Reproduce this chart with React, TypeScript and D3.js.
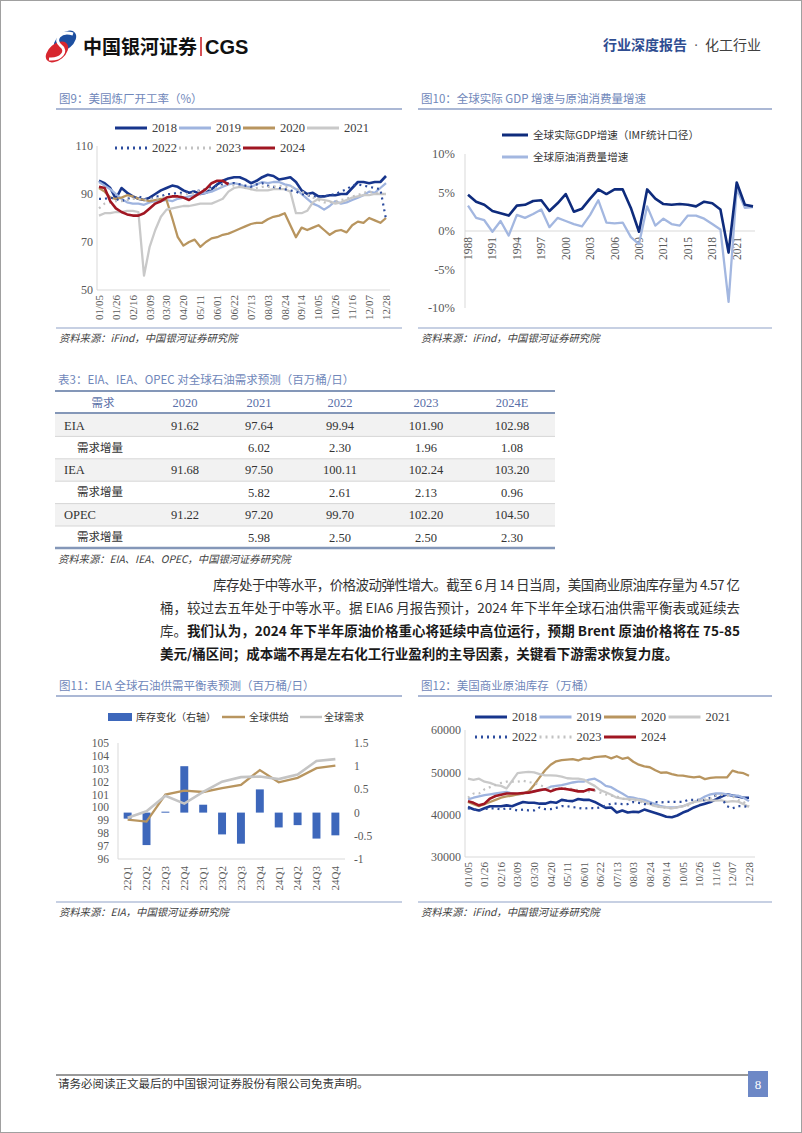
import { useEffect, useRef } from 'react'
import * as d3 from 'd3'

const SERIF = '"Liberation Serif", "Times New Roman", "Noto Sans CJK SC", serif'
const CJK = '"Noto Sans CJK SC", "Liberation Serif", sans-serif'
const TITLE_COLOR = '#6f87ba'
const RULE_COLOR = '#8fa1c7'
const AXIS_COLOR = '#d9d9d9'
const TICK_COLOR = '#595959'

// ---- shared weekly axis (图9 / 图12)
const weekLabels = ['01/05', '01/26', '02/16', '03/09', '03/30', '04/20', '05/11', '06/01', '06/22', '07/13', '08/03', '08/24', '09/14', '10/05', '10/26', '11/16', '12/07', '12/28']
const yearNames = ['2018', '2019', '2020', '2021', '2022', '2023', '2024']

// ---- 图9 美国炼厂开工率 (%)
const util2018 = [95.5, 94.5, 92.5, 88, 92.5, 90.5, 89, 88, 87.5, 88.5, 90, 91.5, 92.5, 93.5, 93, 91.5, 90.5, 91, 90, 90.5, 92, 94, 95.5, 96.5, 97, 97, 96, 94.5, 95.5, 97, 98, 97.5, 96, 96.5, 97, 95, 91.5, 90, 90.5, 89, 89, 89.5, 89.5, 90, 90, 92.5, 95, 95, 94.5, 95, 95, 97.5]
const util2019 = [95, 93.5, 92, 90, 88, 86.5, 86, 86, 85.5, 86.5, 87, 87, 87.5, 87, 88, 88.5, 89, 89.5, 90, 90.5, 91, 92, 93, 94, 94.5, 94, 93, 93, 94, 95, 94.5, 95, 95, 94, 93.5, 92, 90, 88, 86, 85, 83.5, 85, 87, 86, 86.5, 87.5, 88.5, 89.5, 91, 90.5, 92.5, 94.5]
const util2020 = [92.5, 91, 88.5, 88, 88.5, 89.5, 89, 88, 87.5, 87, 87.5, 88, 87.5, 80, 72, 68.5, 70, 71, 68, 70, 71.5, 72, 73, 73.5, 74.5, 75.5, 76.5, 77.5, 78, 78, 79.5, 80.5, 81, 82, 77, 72, 76, 75, 76, 77, 75, 73, 74.5, 75, 74, 77, 78.5, 78, 80, 79, 78, 80]
const util2021 = [81, 82, 82, 82.5, 82.5, 83, 83, 82.5, 56, 68, 75, 80.5, 83.5, 84, 84.5, 85, 85, 85.5, 86, 86, 86, 87, 88, 91, 92.5, 93, 92.5, 92, 91.5, 91.5, 91.5, 92, 92, 92, 91, 82, 82, 83, 86.5, 88, 87.5, 87, 86, 86.5, 87.5, 88.5, 89, 89.5, 89.5, 90, 90, 90]
const util2022 = [88, 88, 88.5, 88, 87, 88, 88.5, 89, 88, 88, 89, 89, 90, 90, 90.5, 90.5, 91, 91, 91.5, 92, 93, 93.5, 94, 94.5, 94.5, 94, 93.5, 93, 94, 94.5, 93.5, 93, 92.5, 92, 91.5, 91, 90, 89.5, 89, 89, 89, 89.5, 90, 91, 92, 93.5, 94, 93.5, 93, 92.5, 92, 79.5]
const util2023 = [84, 86, 86.5, 87, 87, 87.5, 88, 88, 87.5, 88, 88, 88.5, 89, 89, 89.5, 90, 90, 90.5, 91.5, 92, 92, 92.5, 93.5, 94, 93.5, 93, 92.5, 92, 92.5, 93, 93, 93, 93.5, 93, 93, 92.5, 91, 90, 88.5, 87.5, 86.5, 86.5, 87, 87.5, 88, 89, 89.5, 90.5, 91, 90.5, 90, 90]
const util2024 = [93, 92.5, 87, 84, 82.5, 81.5, 81, 81, 82, 84, 86, 87, 88.5, 89, 89, 88.5, 87.5, 89, 90.5, 92, 94.5, 95.5, 95.5, 94]
const utilTicks = [50, 70, 90, 110]

// ---- 图10 全球实际GDP增速 vs 原油消费量增速 (%)
const gdpYears = d3.range(1988, 2024)
const gdpGrowth = [4.7, 3.8, 3.4, 2.6, 2.3, 2.0, 3.3, 3.4, 3.9, 4.0, 2.6, 3.6, 4.8, 2.5, 2.9, 4.2, 5.4, 4.8, 5.4, 5.4, 3.0, -0.1, 5.4, 4.2, 3.5, 3.4, 3.5, 3.4, 3.2, 3.8, 3.6, 2.8, -2.8, 6.3, 3.4, 3.2]
const oilGrowth = [3.3, 1.7, 1.4, -0.1, 1.3, -0.6, 2.1, 1.7, 2.2, 2.8, 0.5, 1.7, 1.3, 0.9, 0.6, 2.1, 4.0, 1.1, 1.0, 1.1, -0.8, -1.7, 3.2, 0.7, 1.6, 0.9, 0.7, 2.0, 2.0, 1.6, 0.9, 0.2, -9.2, 5.5, 3.0, 3.1]
const gdpTickYears = d3.range(1988, 2022, 3)
const pctTicks = [-10, -5, 0, 5, 10]

// ---- 表3 需求预测
const tableHead = ['需求', '2020', '2021', '2022', '2023', '2024E']
const tableRows = [
  ['EIA', '91.62', '97.64', '99.94', '101.90', '102.98'],
  ['需求增量', '', '6.02', '2.30', '1.96', '1.08'],
  ['IEA', '91.68', '97.50', '100.11', '102.24', '103.20'],
  ['需求增量', '', '5.82', '2.61', '2.13', '0.96'],
  ['OPEC', '91.22', '97.20', '99.70', '102.20', '104.50'],
  ['需求增量', '', '5.98', '2.50', '2.50', '2.30'],
]

// ---- 图11 EIA 供需平衡
const quarters = ['22Q1', '22Q2', '22Q3', '22Q4', '23Q1', '23Q2', '23Q3', '23Q4', '24Q1', '24Q2', '24Q3', '24Q4']
const stockChange = [-0.13, -0.7, 0.02, 1.0, 0.17, -0.47, -0.67, 0.5, -0.32, -0.27, -0.56, -0.49]
const supply = [99.05, 98.9, 101.0, 101.3, 101.2, 101.5, 101.75, 102.9, 101.95, 102.3, 103.05, 103.25]
const demand = [99.2, 99.7, 100.9, 100.3, 101.2, 102.0, 102.35, 102.4, 102.2, 102.55, 103.6, 103.75]
const leftTicks = d3.range(96, 106)
const rightTicks = [-1, -0.5, 0, 0.5, 1, 1.5]

// ---- 图12 美国商业原油库存 (万桶)
const stock2018 = [41800, 41300, 41000, 41500, 42000, 42000, 42000, 42200, 42000, 42500, 43000, 42800, 42800, 42600, 42600, 43000, 42800, 43500, 43300, 43200, 43700, 43500, 43500, 43000, 42300, 41600, 41700, 40500, 41000, 40500, 40700, 40600, 41200, 40800, 40400, 40000, 39500, 39400, 39800, 40500, 41000, 41700, 42200, 42600, 43000, 43600, 44300, 44800, 44500, 44300, 44000, 44000]
const stock2019 = [43600, 44000, 44300, 44600, 44800, 45000, 45200, 45400, 45000, 44800, 45000, 45300, 45500, 45800, 46000, 46600, 46800, 47000, 47300, 47600, 47800, 47800, 48300, 48500, 47800, 46800, 46500, 45700, 45000, 44200, 44000, 43700, 43500, 43000, 42500, 42000, 41800, 41700, 41800, 42000, 42500, 43000, 43500, 44300, 44800, 45000, 45000, 44800, 44500, 44500, 44000, 43200]
const stock2020 = [43000, 42500, 42000, 42500, 43000, 43500, 44000, 44300, 44500, 44800, 45000, 45500, 47000, 48800, 50500, 51800, 52600, 52900, 53000, 53100, 52800, 53300, 53200, 53600, 53700, 53800, 53300, 53800, 53200, 53500, 52500, 51800, 51400, 51200, 50500, 49900, 50000, 49600, 49300, 49200, 49000, 48800, 49000, 48400, 48700, 48800, 48800, 48800, 50400, 50000, 49800, 49200]
const stock2021 = [48500, 48200, 48500, 47800, 47500, 47000, 46800, 46200, 48000, 49800, 50000, 50100, 50000, 49600, 49300, 49300, 49200, 49000, 48600, 48500, 48500, 48300, 47500, 46800, 45800, 45300, 44700, 44000, 43800, 43700, 43600, 43500, 43000, 42500, 42000, 41800, 41700, 41500, 41700, 42000, 42500, 43000, 43200, 43500, 43400, 43300, 43400, 43000, 43200, 43100, 42500, 41800]
const stock2022 = [41500, 41200, 41000, 41300, 41500, 41500, 41200, 41500, 41300, 41000, 41200, 41000, 41000, 41700, 41300, 41300, 41600, 42000, 42000, 41800, 41600, 41400, 41600, 41500, 41700, 42200, 42600, 42600, 42500, 42500, 43000, 42800, 42500, 42500, 43000, 42900, 43000, 43000, 43000, 43000, 43500, 43500, 43500, 43400, 44000, 44500, 44000, 42000, 41500, 42000, 42000, 41800]
const stock2023 = [44000, 45000, 45000, 46000, 46500, 47000, 47500, 47800, 47800, 47800, 48000, 47700, 47500, 47000, 46500, 46000, 46200, 46300, 46300, 46000, 45800, 45500, 45500, 45700, 45200, 44800, 44500, 44300, 43800, 43500, 43400, 43200, 42800, 42500, 42000, 41800, 41600, 41500, 41800, 42000, 42200, 43000, 43500, 43600, 43800, 44500, 44700, 44500, 44300, 43500, 43000, 42000]
const stock2024 = [43200, 42800, 42200, 42600, 43800, 44400, 44700, 45000, 45000, 45000, 45100, 45200, 45500, 45800, 46000, 45500, 46000, 46200, 46000, 45800, 45500, 45500, 46000, 45800]
const stockTicks = [30000, 40000, 50000, 60000]

// line look per year, in legend order
const yearStyle = [
  { color: '#17358c', width: 2.6, dash: null },
  { color: '#9fb4df', width: 2.3, dash: null },
  { color: '#b8955f', width: 2.3, dash: null },
  { color: '#c9c9c9', width: 2.3, dash: null },
  { color: '#2c4c9e', width: 2.2, dash: '2,4' },
  { color: '#c2c2c2', width: 2.2, dash: '2,4' },
  { color: '#a01622', width: 2.6, dash: null },
]

const titleBlock = (svg, x1, x2, baseline, text) => {
  svg.append('text').attr('x', x1 + 3).attr('y', baseline).attr('font-family', CJK)
    .attr('font-size', 11.5).attr('fill', TITLE_COLOR).text(text)
  svg.append('line').attr('x1', x1).attr('x2', x2).attr('y1', baseline + 6).attr('y2', baseline + 6)
    .attr('stroke', RULE_COLOR).attr('stroke-width', 1.3)
}

const sourceBlock = (svg, x1, x2, lineY, text) => {
  svg.append('line').attr('x1', x1).attr('x2', x2).attr('y1', lineY).attr('y2', lineY)
    .attr('stroke', RULE_COLOR).attr('stroke-width', 1.2)
  svg.append('text').attr('x', x1 + 3).attr('y', lineY + 14).attr('font-family', CJK)
    .attr('font-style', 'italic').attr('font-size', 10.3).attr('fill', '#404040').text(text)
}

const drawWeekly = (svg, o) => {
  const x = d3.scalePoint().domain(d3.range(52)).range(o.xRange)
  const y = d3.scaleLinear().domain(o.domain).range([o.bottom, o.top])
  const g = svg.append('g')

  g.append('line').attr('x1', o.left).attr('x2', o.left).attr('y1', o.top).attr('y2', o.bottom).attr('stroke', AXIS_COLOR)
  g.append('line').attr('x1', o.left).attr('x2', o.right).attr('y1', o.bottom).attr('y2', o.bottom).attr('stroke', AXIS_COLOR)

  g.append('g').selectAll('text').data(o.ticks).join('text')
    .attr('x', o.left - 4).attr('y', (d) => y(d)).attr('dy', '0.35em').attr('text-anchor', 'end')
    .attr('font-family', SERIF).attr('font-size', 12).attr('fill', TICK_COLOR).text((d) => d)

  g.append('g').selectAll('text').data(weekLabels).join('text')
    .attr('transform', (d, i) => `translate(${x(i * 3)},${o.bottom + 5}) rotate(-90)`)
    .attr('dy', '0.35em').attr('text-anchor', 'end')
    .attr('font-family', SERIF).attr('font-size', 11).attr('fill', TICK_COLOR).text((d) => d)

  const line = d3.line().x((d, i) => x(i)).y((d) => y(d))
  o.series.forEach((s, k) => {
    const st = yearStyle[k]
    g.append('path').datum(s).attr('d', line).attr('fill', 'none')
      .attr('stroke', st.color).attr('stroke-width', st.width)
      .attr('stroke-dasharray', st.dash).attr('stroke-linejoin', 'round')
  })

  // legend: 4 on first row, 3 on second
  yearNames.forEach((name, k) => {
    const st = yearStyle[k]
    const lx = o.legendX + (k % 4) * o.legendStep
    const ly = o.legendY + Math.floor(k / 4) * 20
    g.append('line').attr('x1', lx).attr('x2', lx + 32).attr('y1', ly).attr('y2', ly)
      .attr('stroke', st.color).attr('stroke-width', 3).attr('stroke-dasharray', st.dash)
    g.append('text').attr('x', lx + 37).attr('y', ly).attr('dy', '0.35em')
      .attr('font-family', SERIF).attr('font-size', 12.5).attr('fill', '#404040').text(name)
  })
}

const App = () => {
  const svgRef = useRef(null)

  useEffect(() => {
    const svg = d3.select(svgRef.current)
    svg.selectAll('*').remove()

    svg.append('rect').attr('x', 0.5).attr('y', 0.5).attr('width', 801).attr('height', 1132)
      .attr('fill', '#fff').attr('stroke', '#a0a0a0')

    // ---------- header
    const logo = svg.append('g')
    logo.append('ellipse').attr('cx', 65).attr('cy', 41).attr('rx', 13).attr('ry', 8)
      .attr('transform', 'rotate(-40 65 41)').attr('fill', '#1d4fa0')
    logo.append('ellipse').attr('cx', 57).attr('cy', 52).attr('rx', 13).attr('ry', 8)
      .attr('transform', 'rotate(-40 57 52)').attr('fill', '#d7262f')
    logo.append('path').attr('d', 'M73,34 C60,30 53,40 61,46 C68,51 61,60 49,59')
      .attr('fill', 'none').attr('stroke', '#fff').attr('stroke-width', 3)
    svg.append('text').attr('x', 83).attr('y', 54).attr('font-family', CJK).attr('font-weight', 700)
      .attr('font-size', 19).attr('fill', '#111').text('中国银河证券')
    svg.append('line').attr('x1', 201).attr('x2', 201).attr('y1', 37).attr('y2', 56).attr('stroke', '#c8161d').attr('stroke-width', 1.5)
    svg.append('text').attr('x', 205).attr('y', 54).attr('font-family', '"Liberation Sans", Arial, sans-serif')
      .attr('font-weight', 700).attr('font-size', 20).attr('fill', '#111').text('CGS')
    svg.append('text').attr('x', 603).attr('y', 50).attr('font-family', CJK).attr('font-weight', 700)
      .attr('font-size', 14).attr('fill', '#2f4d91').text('行业深度报告')
    svg.append('text').attr('x', 696).attr('y', 50).attr('text-anchor', 'middle').attr('font-family', SERIF)
      .attr('font-size', 14).attr('fill', '#555').text('·')
    svg.append('text').attr('x', 705).attr('y', 50).attr('font-family', CJK)
      .attr('font-size', 14).attr('fill', '#404040').text('化工行业')

    // ---------- 图9
    titleBlock(svg, 56, 402, 103, '图9：美国炼厂开工率（%）')
    drawWeekly(svg, {
      left: 97, right: 390, top: 146, bottom: 290, xRange: [99, 386],
      domain: [50, 110], ticks: utilTicks,
      series: [util2018, util2019, util2020, util2021, util2022, util2023, util2024],
      legendX: 115, legendStep: 64, legendY: 128,
    })
    sourceBlock(svg, 56, 402, 328, '资料来源：iFind，中国银河证券研究院')

    // ---------- 图10
    titleBlock(svg, 418, 772, 103, '图10：全球实际 GDP 增速与原油消费量增速')
    {
      const g = svg.append('g')
      const x = d3.scaleLinear().domain([1988, 2023]).range([468, 753])
      const y = d3.scaleLinear().domain([-10, 10]).range([308, 154])
      g.append('line').attr('x1', 465).attr('x2', 465).attr('y1', y(10)).attr('y2', y(-10)).attr('stroke', AXIS_COLOR)
      g.append('line').attr('x1', 465).attr('x2', 755).attr('y1', y(0)).attr('y2', y(0)).attr('stroke', AXIS_COLOR)
      g.append('g').selectAll('text').data(pctTicks).join('text')
        .attr('x', 455).attr('y', (d) => y(d)).attr('dy', '0.35em').attr('text-anchor', 'end')
        .attr('font-family', SERIF).attr('font-size', 12.5).attr('fill', TICK_COLOR).text((d) => `${d}%`)
      g.append('g').selectAll('text').data(gdpTickYears).join('text')
        .attr('transform', (d) => `translate(${x(d)},${y(0) + 6}) rotate(-90)`)
        .attr('dy', '0.35em').attr('text-anchor', 'end')
        .attr('font-family', SERIF).attr('font-size', 11.5).attr('fill', TICK_COLOR).text((d) => d)
      const line = d3.line().x((d, i) => x(gdpYears[i])).y((d) => y(d))
      g.append('path').datum(oilGrowth).attr('d', line).attr('fill', 'none').attr('stroke', '#a3b7e0').attr('stroke-width', 2.3).attr('stroke-linejoin', 'round')
      g.append('path').datum(gdpGrowth).attr('d', line).attr('fill', 'none').attr('stroke', '#0e2b7c').attr('stroke-width', 2.6).attr('stroke-linejoin', 'round')
      const legend = [
        { label: '全球实际GDP增速（IMF统计口径）', color: '#0e2b7c', ly: 135 },
        { label: '全球原油消费量增速', color: '#a3b7e0', ly: 157 },
      ]
      legend.forEach((d) => {
        g.append('line').attr('x1', 502).attr('x2', 528).attr('y1', d.ly).attr('y2', d.ly).attr('stroke', d.color).attr('stroke-width', 3)
        g.append('text').attr('x', 533).attr('y', d.ly).attr('dy', '0.35em').attr('font-family', CJK)
          .attr('font-size', 10.6).attr('fill', '#333').text(d.label)
      })
    }
    sourceBlock(svg, 418, 772, 328, '资料来源：iFind，中国银河证券研究院')

    // ---------- 表3
    {
      const g = svg.append('g')
      g.append('text').attr('x', 58).attr('y', 384).attr('font-family', CJK).attr('font-size', 11.5)
        .attr('fill', TITLE_COLOR).text('表3：EIA、IEA、OPEC 对全球石油需求预测（百万桶/日）')
      const colX = [103, 185, 259, 340, 426, 512]
      const rowTop = 414
      const rowH = 22.4
      tableRows.forEach((row, r) => {
        const top = rowTop + r * rowH
        g.append('rect').attr('x', 55).attr('y', top).attr('width', 500).attr('height', rowH)
          .attr('fill', r % 2 === 0 ? '#f2f2f2' : '#fff')
        if (r > 0) g.append('line').attr('x1', 55).attr('x2', 555).attr('y1', top).attr('y2', top).attr('stroke', '#d6d6d6').attr('stroke-width', 1)
        row.forEach((cell, c) => {
          const isLabel = c === 0
          g.append('text')
            .attr('x', isLabel ? (r % 2 === 0 ? 64 : 77) : colX[c])
            .attr('y', top + rowH / 2).attr('dy', '0.35em')
            .attr('text-anchor', isLabel ? 'start' : 'middle')
            .attr('font-family', isLabel && r % 2 === 1 ? CJK : SERIF)
            .attr('font-size', isLabel && r % 2 === 1 ? 11.5 : 12.5).attr('fill', '#333').text(cell)
        })
      })
      g.append('line').attr('x1', 55).attr('x2', 555).attr('y1', 391).attr('y2', 391).attr('stroke', '#8497b8').attr('stroke-width', 2)
      g.append('line').attr('x1', 55).attr('x2', 555).attr('y1', 413).attr('y2', 413).attr('stroke', '#8497b8').attr('stroke-width', 2)
      g.append('line').attr('x1', 55).attr('x2', 555).attr('y1', 548).attr('y2', 548).attr('stroke', '#8497b8').attr('stroke-width', 2.5)
      tableHead.forEach((h, c) => {
        g.append('text').attr('x', colX[c]).attr('y', 403).attr('dy', '0.35em').attr('text-anchor', 'middle')
          .attr('font-family', c === 0 ? CJK : SERIF).attr('font-size', c === 0 ? 11.5 : 12.5)
          .attr('fill', '#5a6fa8').text(h)
      })
      g.append('text').attr('x', 58).attr('y', 563).attr('font-family', CJK).attr('font-style', 'italic')
        .attr('font-size', 10.3).attr('fill', '#404040').text('资料来源：EIA、IEA、OPEC，中国银河证券研究院')
    }

    // ---------- 正文
    {
      const g = svg.append('g').attr('font-family', CJK).attr('font-size', 13.5)
      g.append('text').attr('x', 213).attr('y', 590).attr('textLength', 527).attr('lengthAdjust', 'spacing')
        .attr('fill', '#333').text('库存处于中等水平，价格波动弹性增大。截至 6 月 14 日当周，美国商业原油库存量为 4.57 亿')
      g.append('text').attr('x', 160).attr('y', 613).attr('textLength', 580).attr('lengthAdjust', 'spacing')
        .attr('fill', '#333').text('桶，较过去五年处于中等水平。据 EIA6 月报告预计，2024 年下半年全球石油供需平衡表或延续去')
      g.append('text').attr('x', 160).attr('y', 636).attr('fill', '#333').text('库。')
      g.append('text').attr('x', 187).attr('y', 636).attr('textLength', 553).attr('lengthAdjust', 'spacing')
        .attr('font-weight', 700).attr('fill', '#1a1a1a')
        .text('我们认为，2024 年下半年原油价格重心将延续中高位运行，预期 Brent 原油价格将在 75-85')
      g.append('text').attr('x', 160).attr('y', 659).attr('font-weight', 700).attr('fill', '#1a1a1a')
        .text('美元/桶区间；成本端不再是左右化工行业盈利的主导因素，关键看下游需求恢复力度。')
    }

    // ---------- 图11
    titleBlock(svg, 56, 402, 690, '图11：EIA 全球石油供需平衡表预测（百万桶/日）')
    {
      const g = svg.append('g')
      const x = d3.scaleBand().domain(quarters).range([118, 345]).paddingInner(0.58).paddingOuter(0.3)
      const yL = d3.scaleLinear().domain([96, 105]).range([859, 743])
      const yR = d3.scaleLinear().domain([-1, 1.5]).range([859, 743])
      const cx = (q) => x(q) + x.bandwidth() / 2
      g.append('line').attr('x1', 118).attr('x2', 118).attr('y1', 743).attr('y2', 859).attr('stroke', AXIS_COLOR)
      g.append('line').attr('x1', 118).attr('x2', 345).attr('y1', 859).attr('y2', 859).attr('stroke', AXIS_COLOR)
      g.append('g').selectAll('text').data(leftTicks).join('text')
        .attr('x', 109).attr('y', (d) => yL(d)).attr('dy', '0.35em').attr('text-anchor', 'end')
        .attr('font-family', SERIF).attr('font-size', 11.5).attr('fill', TICK_COLOR).text((d) => d)
      g.append('g').selectAll('text').data(rightTicks).join('text')
        .attr('x', 354).attr('y', (d) => yR(d)).attr('dy', '0.35em').attr('text-anchor', 'start')
        .attr('font-family', SERIF).attr('font-size', 11.5).attr('fill', TICK_COLOR).text((d) => d)
      g.append('g').selectAll('text').data(quarters).join('text')
        .attr('transform', (d) => `translate(${cx(d)},866) rotate(-90)`)
        .attr('dy', '0.35em').attr('text-anchor', 'end')
        .attr('font-family', SERIF).attr('font-size', 11).attr('fill', TICK_COLOR).text((d) => d)
      g.append('g').selectAll('rect').data(stockChange).join('rect')
        .attr('x', (d, i) => x(quarters[i])).attr('width', x.bandwidth())
        .attr('y', (d) => yR(Math.max(0, d))).attr('height', (d) => Math.max(1, Math.abs(yR(d) - yR(0))))
        .attr('fill', '#3d67bb')
      const line = d3.line().x((d, i) => cx(quarters[i])).y((d) => yL(d))
      g.append('path').datum(supply).attr('d', line).attr('fill', 'none').attr('stroke', '#b8955f').attr('stroke-width', 2.3)
      g.append('path').datum(demand).attr('d', line).attr('fill', 'none').attr('stroke', '#c4c4c4').attr('stroke-width', 2.6)
      // legend
      const lg = g.append('g').attr('font-family', CJK).attr('font-size', 10).attr('fill', '#333')
      lg.append('rect').attr('x', 108).attr('y', 713).attr('width', 24).attr('height', 8).attr('fill', '#3d67bb')
      lg.append('text').attr('x', 136).attr('y', 717).attr('dy', '0.35em').text('库存变化（右轴）')
      lg.append('line').attr('x1', 222).attr('x2', 245).attr('y1', 717).attr('y2', 717).attr('stroke', '#b8955f').attr('stroke-width', 2.5)
      lg.append('text').attr('x', 249).attr('y', 717).attr('dy', '0.35em').text('全球供给')
      lg.append('line').attr('x1', 300).attr('x2', 322).attr('y1', 717).attr('y2', 717).attr('stroke', '#c4c4c4').attr('stroke-width', 2.5)
      lg.append('text').attr('x', 324).attr('y', 717).attr('dy', '0.35em').text('全球需求')
    }
    sourceBlock(svg, 56, 402, 902, '资料来源：EIA，中国银河证券研究院')

    // ---------- 图12
    titleBlock(svg, 418, 772, 690, '图12：美国商业原油库存（万桶）')
    drawWeekly(svg, {
      left: 465, right: 755, top: 730, bottom: 857, xRange: [468, 749],
      domain: [30000, 60000], ticks: stockTicks,
      series: [stock2018, stock2019, stock2020, stock2021, stock2022, stock2023, stock2024],
      legendX: 475, legendStep: 64.5, legendY: 717,
    })
    sourceBlock(svg, 418, 772, 902, '资料来源：iFind，中国银河证券研究院')

    // ---------- footer
    svg.append('line').attr('x1', 56).attr('x2', 768).attr('y1', 1075).attr('y2', 1075).attr('stroke', '#333').attr('stroke-width', 1)
    svg.append('text').attr('x', 58).attr('y', 1088).attr('font-family', CJK).attr('font-size', 11.5).attr('fill', '#333')
      .text('请务必阅读正文最后的中国银河证券股份有限公司免责声明。')
    svg.append('rect').attr('x', 748).attr('y', 1071).attr('width', 20).attr('height', 26).attr('fill', '#6d88c6')
    svg.append('text').attr('x', 758).attr('y', 1084).attr('dy', '0.35em').attr('text-anchor', 'middle')
      .attr('font-family', SERIF).attr('font-size', 13).attr('fill', '#fff').text('8')
  }, [])

  return <svg ref={svgRef} width={802} height={1133} style={{ position: 'absolute', left: 0, top: 0 }} />
}

export default App
